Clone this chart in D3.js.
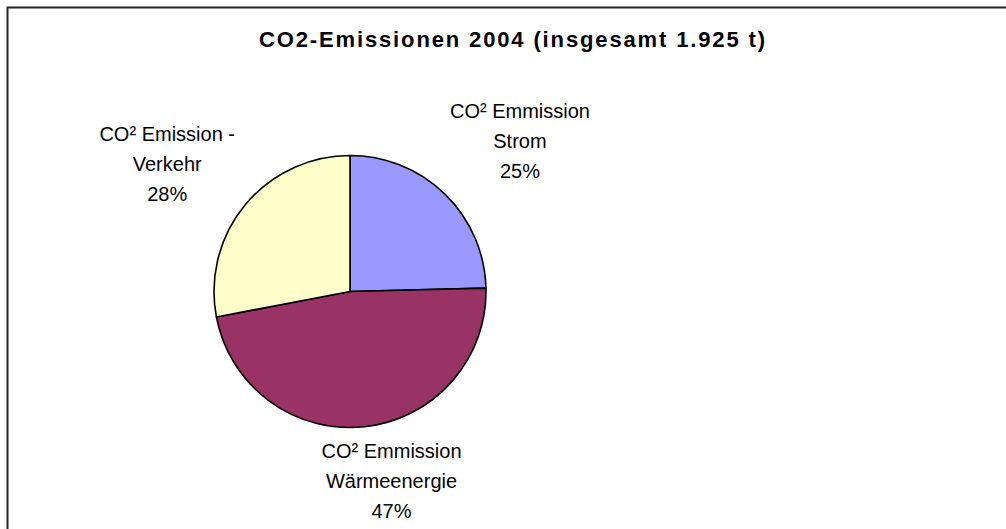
<!DOCTYPE html>
<html>
<head>
<meta charset="utf-8">
<script src="https://cdn.jsdelivr.net/npm/d3@7"></script>
<style>
  html, body { margin: 0; padding: 0; background: #fff; }
  svg { display: block; font-family: "Liberation Sans", Arial, sans-serif; }
</style>
</head>
<body>
<svg id="chart" width="1006" height="529"></svg>
<script>
// ---- data ----
const title = "CO2-Emissionen 2004 (insgesamt 1.925 t)";
const categories = ["Strom", "Wärmeenergie", "Verkehr"];
const values = [24.6, 47.4, 28.0];            // percent share
const labelLines = [
  ["CO² Emmission", "Strom"],
  ["CO² Emmission", "Wärmeenergie"],
  ["CO² Emission -", "Verkehr"]
];
const colors = ["#9999FF", "#993366", "#FFFFCC"];

// ---- layout ----
const W = 1006, H = 529;
const cx = 350, cy = 291.5, R = 136;
const labelOffsets = [[75, -46], [27, 61], [-78, -34]]; // offset of middle line from arc edge at mid-angle
const lineGap = 29.8;

const svg = d3.select("#chart");

// frame
svg.append("rect")
  .attr("x", 7.5).attr("y", 7.5)
  .attr("width", W + 20).attr("height", H + 20)
  .attr("fill", "#fff")
  .attr("stroke", "#222")
  .attr("stroke-width", 2);

// title
svg.append("text")
  .attr("x", 259).attr("y", 46.5)
  .attr("font-size", 22)
  .attr("font-weight", "bold")
  .attr("fill", "#000")
  .attr("textLength", 506)
  .attr("lengthAdjust", "spacing")
  .text(title);

const data = categories.map((c, i) => ({ cat: c, value: values[i], lines: labelLines[i], color: colors[i], idx: i }));
const total = d3.sum(values);

const pie = d3.pie().value(d => d.value).sort(null).startAngle(0).endAngle(2 * Math.PI);
const arc = d3.arc().innerRadius(0).outerRadius(R);

const g = svg.append("g").attr("transform", `translate(${cx},${cy})`);

const arcs = pie(data);

g.selectAll("path.slice")
  .data(arcs)
  .join("path")
  .attr("class", "slice")
  .attr("d", arc)
  .attr("fill", d => d.data.color)
  .attr("stroke", "#000")
  .attr("stroke-width", 1.6)
  .attr("stroke-linejoin", "round");

const pct = d3.format(".0f");

const labels = g.selectAll("g.lbl")
  .data(arcs)
  .join("g")
  .attr("class", "lbl")
  .attr("transform", d => {
    const a = (d.startAngle + d.endAngle) / 2;
    const x = R * Math.sin(a) + labelOffsets[d.data.idx][0];
    const y = -R * Math.cos(a) + labelOffsets[d.data.idx][1];
    return `translate(${x},${y})`;
  });

labels.each(function (d) {
  const lines = d.data.lines.concat([pct(d.data.value / total * 100) + "%"]);
  d3.select(this).selectAll("text")
    .data(lines)
    .join("text")
    .attr("x", 0)
    .attr("y", (t, i) => (i - 1) * lineGap)
    .attr("text-anchor", "middle")
    .attr("font-size", 20)
    .attr("fill", "#000")
    .text(t => t);
});
</script>
</body>
</html>
